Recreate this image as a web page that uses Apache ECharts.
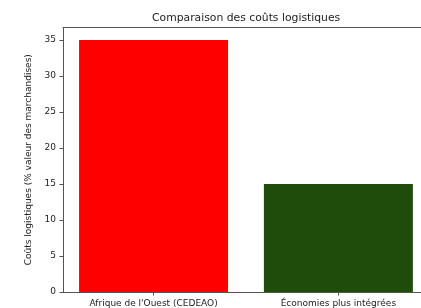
<!DOCTYPE html>
<html lang="fr">
<head>
<meta charset="UTF-8">
<title>Comparaison des coûts logistiques</title>
<script src="https://cdn.jsdelivr.net/npm/echarts@6/dist/echarts.min.js"></script>
<style>
  html, body { margin: 0; padding: 0; background: #fff; }
  #main { width: 421px; height: 308px; }
</style>
</head>
<body>
<div id="main"></div>
<script>
// données
var regions = ["Afrique de l'Ouest (CEDEAO)", "Économies plus intégrées"];
var couts = [35, 15];
var couleurs = ['#fe0000', '#1f4c0a'];
var yTicks = [0, 5, 10, 15, 20, 25, 30, 35];

var font = 'DejaVu Sans';
var axisColor = '#555';
var chart = echarts.init(document.getElementById('main'));

var option = {
  animation: false,
  title: {
    text: 'Comparaison des coûts logistiques',
    left: 152,
    top: 13,
    padding: 0,
    textStyle: { fontFamily: font, fontSize: 10.8, fontWeight: 'normal', color: '#222' }
  },
  grid: {
    left: 63,
    top: 27.5,
    right: -2,
    bottom: 15
  },
  xAxis: [{
    type: 'value',
    min: -0.49,
    max: 1.447,
    splitLine: { show: false },
    axisLine: { show: true, onZero: false, lineStyle: { color: axisColor } },
    axisTick: { show: true, length: 3.5, customValues: [0, 1], lineStyle: { color: axisColor } },
    axisLabel: {
      customValues: [0, 1],
      margin: 7,
      fontFamily: font, fontSize: 9, color: '#222',
      formatter: function (v) { return regions[Math.round(v)]; }
    }
  }, {
    // cadre du haut
    type: 'value',
    position: 'top',
    min: -0.49,
    max: 1.447,
    splitLine: { show: false },
    axisLine: { show: true, onZero: false, lineStyle: { color: axisColor } },
    axisTick: { show: false },
    axisLabel: { show: false }
  }],
  yAxis: {
    type: 'value',
    min: 0,
    max: 36.75,
    name: 'Coûts logistiques (% valeur des marchandises)',
    nameLocation: 'middle',
    nameGap: 24,
    nameTextStyle: { fontFamily: font, fontSize: 9, color: '#222' },
    splitLine: { show: false },
    axisLine: { show: true, onZero: false, lineStyle: { color: axisColor } },
    axisTick: { show: true, length: 3.5, customValues: yTicks, lineStyle: { color: axisColor } },
    axisLabel: { customValues: yTicks, margin: 7, fontFamily: font, fontSize: 9, color: '#222' }
  },
  series: [{
    type: 'bar',
    barWidth: 149,
    data: couts.map(function (v, i) {
      return { value: [i, v], itemStyle: { color: couleurs[i] } };
    })
  }]
};
chart.setOption(option);
</script>
</body>
</html>
